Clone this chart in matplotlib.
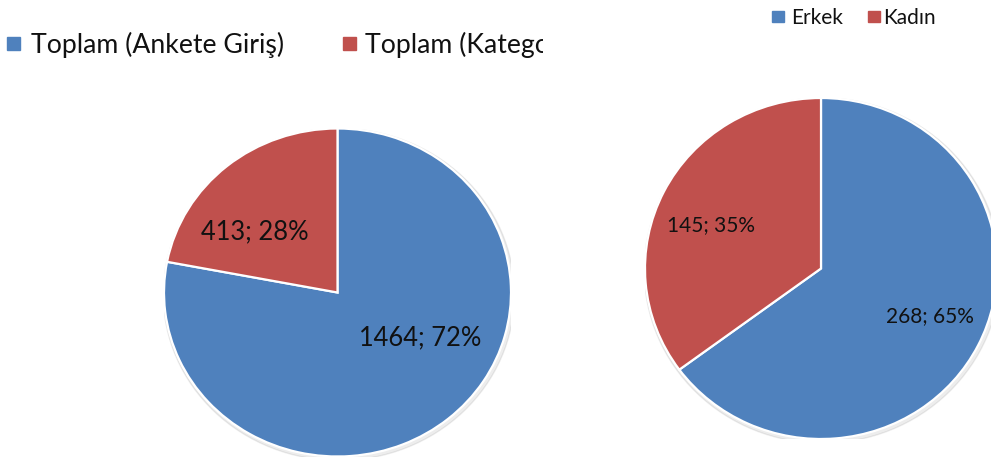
import matplotlib.pyplot as plt
from matplotlib.patches import Rectangle, Ellipse
from matplotlib.transforms import Bbox, TransformedBbox

# data
left_labels = ['Toplam (Ankete Giriş)', 'Toplam (Kategori)']
left_values = [1464, 413]
left_pcts = [72, 28]

right_labels = ['Erkek', 'Kadın']
right_values = [268, 145]
right_pcts = [65, 35]

colors = ['#4F81BD', '#C0504D']

W, H = 991, 460
plt.rcParams['font.family'] = ['Lato', 'DejaVu Sans']
fig = plt.figure(figsize=(W / 100, H / 100), dpi=100)


def px_axes(x0, y0, x1, y1):
    # axes from pixel box (top-left origin)
    return fig.add_axes([x0 / W, (H - y1) / H, (x1 - x0) / W, (y1 - y0) / H])


def draw_pie(ax, values, pcts, label_pos, fs):
    # faint drop shadow
    ax.add_patch(Ellipse((0.008, -0.012), 2.025, 2.025, color='#000000', alpha=0.07, zorder=0))
    wedges, _ = ax.pie(values, colors=colors, startangle=90, counterclock=False, radius=1,
                       wedgeprops=dict(edgecolor='white', linewidth=1.6))
    for v, p, (x, y) in zip(values, pcts, label_pos):
        ax.text(x, y, '{}; {}%'.format(v, p), ha='center', va='center', fontsize=fs, color='#111111')
    ax.set_aspect('auto')
    ax.set_xlim(-1, 1)
    ax.set_ylim(-1, 1)
    ax.axis('off')


ax1 = px_axes(164, 129.5, 511, 457.5)
draw_pie(ax1, left_values, left_pcts, [(0.475, -0.27), (-0.475, 0.375)], 18.4)

ax2 = px_axes(645, 99, 997, 440)
draw_pie(ax2, right_values, right_pcts, [(0.62, -0.276), (-0.625, 0.258)], 15)

# legends drawn in pixel coordinates
lg = fig.add_axes([0, 0, 1, 1])
lg.set_xlim(0, W)
lg.set_ylim(H, 0)
lg.axis('off')
lg.patch.set_alpha(0)

# the left legend is cut off in the original
clip = TransformedBbox(Bbox([[0, 0], [543, H]]), lg.transData)
for x_sq, x_txt, c, t in zip([7, 343], [31, 365], colors, left_labels):
    lg.add_patch(Rectangle((x_sq, 38), 13, 13, color=c))
    txt = lg.text(x_txt, 45, t, ha='left', va='center', fontsize=19.2, color='#111111')
    txt.set_clip_box(clip)
    txt.set_clip_on(True)

for x_sq, x_txt, c, t in zip([772, 868], [791, 883], colors, right_labels):
    lg.add_patch(Rectangle((x_sq, 12), 12, 11, color=c))
    lg.text(x_txt, 18, t, ha='left', va='center', fontsize=15, color='#111111')

fig.savefig('out.png', dpi=100)
